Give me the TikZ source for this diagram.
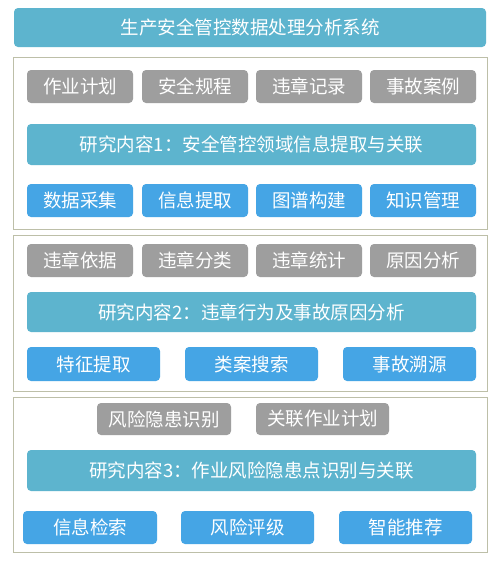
\documentclass[tikz,border=0pt]{standalone}
\usepackage{fontspec}
\setmainfont{Noto Sans CJK SC}
\definecolor{teal}{HTML}{5DB4CE}
\definecolor{gbox}{HTML}{9E9E9E}
\definecolor{bbox}{HTML}{45A5E5}
\definecolor{pborder}{HTML}{BDBFA8}
\begin{document}
\begin{tikzpicture}[x=1pt,y=-1pt,
  box/.style={rounded corners=4pt, text=white, font=\fontsize{18.5}{18.5}\selectfont, inner sep=0pt},
  graybox/.style={box, fill=gbox},
  bluebox/.style={box, fill=bbox},
  barbox/.style={box, fill=teal},
  panel/.style={draw=pborder, line width=1pt, fill=white}]
\fill[white] (0,0) rectangle (500,565);
\useasboundingbox (0,0) rectangle (500,565);
% title
\node[barbox, minimum width=472, minimum height=39] (title) at (250,27.5) {生产安全管控数据处理分析系统};
% panels
\draw[panel] (13,57) rectangle (487,229);
\draw[panel] (13,235) rectangle (487,391);
\draw[panel] (13,397) rectangle (487,552);
% panel 1
\node[graybox, minimum width=106, minimum height=33] (g11) at (80,86.5) {作业计划};
\node[graybox, minimum width=106, minimum height=33] (g12) at (195,86.5) {安全规程};
\node[graybox, minimum width=106, minimum height=33] (g13) at (309,86.5) {违章记录};
\node[graybox, minimum width=106, minimum height=33] (g14) at (423,86.5) {事故案例};
\node[barbox, minimum width=449, minimum height=41] (r1) at (251.5,144.5) {研究内容1：安全管控领域信息提取与关联};
\node[bluebox, minimum width=106, minimum height=33] (b11) at (80,200.5) {数据采集};
\node[bluebox, minimum width=106, minimum height=33] (b12) at (195,200.5) {信息提取};
\node[bluebox, minimum width=106, minimum height=33] (b13) at (309,200.5) {图谱构建};
\node[bluebox, minimum width=106, minimum height=33] (b14) at (423,200.5) {知识管理};
% panel 2
\node[graybox, minimum width=106, minimum height=33] (g21) at (80,260.5) {违章依据};
\node[graybox, minimum width=106, minimum height=33] (g22) at (195,260.5) {违章分类};
\node[graybox, minimum width=106, minimum height=33] (g23) at (309,260.5) {违章统计};
\node[graybox, minimum width=106, minimum height=33] (g24) at (423,260.5) {原因分析};
\node[barbox, minimum width=449, minimum height=40] (r2) at (251.5,312) {研究内容2：违章行为及事故原因分析};
\node[bluebox, minimum width=133, minimum height=34] (b21) at (93.5,364) {特征提取};
\node[bluebox, minimum width=133, minimum height=34] (b22) at (251.5,364) {类案搜索};
\node[bluebox, minimum width=133, minimum height=34] (b23) at (409.5,364) {事故溯源};
% panel 3
\node[graybox, minimum width=134, minimum height=32] (g31) at (164,419) {风险隐患识别};
\node[graybox, minimum width=133, minimum height=32] (g32) at (322.5,419) {关联作业计划};
\node[barbox, minimum width=449, minimum height=41] (r3) at (251.5,470.5) {研究内容3：作业风险隐患点识别与关联};
\node[bluebox, minimum width=134, minimum height=33] (b31) at (90,527.5) {信息检索};
\node[bluebox, minimum width=133, minimum height=33] (b32) at (247.5,527.5) {风险评级};
\node[bluebox, minimum width=133, minimum height=33] (b33) at (405.5,527.5) {智能推荐};
\end{tikzpicture}
\end{document}
